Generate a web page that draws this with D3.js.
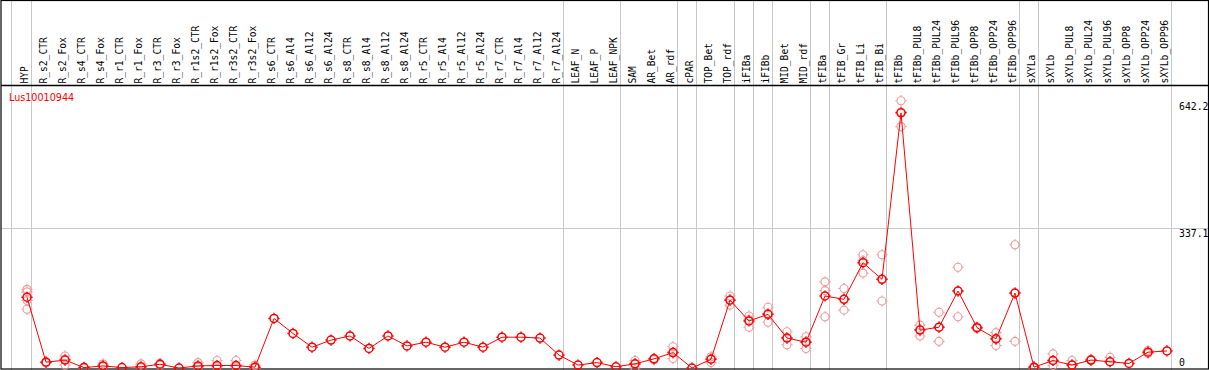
<!DOCTYPE html>
<html>
<head>
<meta charset="utf-8">
<script src="https://cdn.jsdelivr.net/npm/d3@7"></script>
<style>
  body { margin: 0; background: #fff; }
  svg { display: block; }
</style>
</head>
<body>
<div id="chart"></div>
<script>
// 样本名称
const categories = ["HYP", "R_s2_CTR", "R_s2_Fox", "R_s4_CTR", "R_s4_Fox", "R_r1_CTR", "R_r1_Fox", "R_r3_CTR", "R_r3_Fox",
    "R_r1s2_CTR", "R_r1s2_Fox", "R_r3s2_CTR", "R_r3s2_Fox", "R_s6_CTR", "R_s6_Al4", "R_s6_Al12", "R_s6_Al24",
    "R_s8_CTR", "R_s8_Al4", "R_s8_Al12", "R_s8_Al24", "R_r5_CTR", "R_r5_Al4", "R_r5_Al12", "R_r5_Al24",
    "R_r7_CTR", "R_r7_Al4", "R_r7_Al12", "R_r7_Al24", "LEAF_N", "LEAF_P", "LEAF_NPK", "SAM", "AR_Bet", "AR_rdf",
    "cPAR", "TOP_Bet", "TOP_rdf", "iFIBa", "iFIBb", "MID_Bet", "MID_rdf", "tFIBa", "tFIB_Gr", "tFIB_Li", "tFIB_Bi",
    "tFIBb", "tFIBb_PUL8", "tFIBb_PUL24", "tFIBb_PUL96", "tFIBb_OPP8", "tFIBb_OPP24", "tFIBb_OPP96",
    "sXYLa", "sXYLb", "sXYLb_PUL8", "sXYLb_PUL24", "sXYLb_PUL96", "sXYLb_OPP8", "sXYLb_OPP24", "sXYLb_OPP96"];

// 平均表达量
const meanValues = [170, 14, 19, 1, 5, 1, 3, 9, 0, 5, 6, 6, 2, 119, 83, 50, 67, 77, 47, 77, 53, 62, 50, 62, 50,
    74, 74, 72, 31, 7, 13, 3, 10, 22, 37, 0, 21, 163, 113, 129, 72, 62, 173, 165, 253, 213,
    613, 91, 98, 185, 97, 70, 180, 2, 18, 7, 19, 15, 11, 38, 41];

// 重复样本
const replicateValues = [[189, 183, 162, 141], [15, 12], [29, 21, 7], [2, 0], [10, 3], [], [10, 1], [11, 7], [],
    [13, 2], [18, 3], [18, 3], [7, 0], [], [], [], [], [], [], [], [], [], [], [], [], [], [], [], [], [], [], [],
    [18, 10, 0], [23, 20], [51, 37, 23], [], [27, 22, 13], [173, 164, 151], [125, 116, 98], [146, 131, 110],
    [87, 73, 56], [75, 63, 47], [207, 186, 123], [191, 165, 139], [272, 258, 228], [272, 213, 161],
    [642.2, 615, 580], [103, 92, 77], [134, 98, 64], [242, 185, 123], [99, 95], [85, 70, 54], [296, 180, 64],
    [3, 0], [34, 18, 6], [18, 7], [21, 18], [26, 15], [], [42, 35], []];

// 分组线（在这些样本之后）
const separatorsAfter = ["HYP", "R_r7_Al24", "LEAF_NPK", "AR_rdf", "cPAR", "TOP_rdf", "iFIBa", "iFIBb",
    "MID_rdf", "tFIBa", "tFIB_Bi", "tFIBb_OPP96", "sXYLa", "sXYLb_OPP96"];

const tickValues = [642.2, 337.1, 0];
const geneName = "Lus10010944";

const width = 1209, height = 370;
const headerBottom = 85.5;

const svg = d3.select("#chart").append("svg")
    .attr("width", width)
    .attr("height", height);

const x = d3.scaleBand()
    .domain(categories)
    .range([17.5, 17.5 + categories.length * 19]);
const cx = d => x(d) + x.bandwidth() / 2;

const y = d3.scaleLinear()
    .domain([0, 642.2])
    .range([368, 100.7]);

// 竖直分组线
const gridX = [cx(categories[0]) - 16.3].concat(separatorsAfter.map(c => cx(c) + 3.7));
svg.append("g").selectAll("line")
    .data(gridX)
    .join("line")
    .attr("x1", d => Math.round(d) + 0.5).attr("x2", d => Math.round(d) + 0.5)
    .attr("y1", 0).attr("y2", height)
    .attr("stroke", "#c8c8c8").attr("stroke-width", 1);

// 水平网格线
svg.append("g").selectAll("line")
    .data(tickValues.filter(v => v > 0 && v < 642.2))
    .join("line")
    .attr("x1", 1).attr("x2", width - 1)
    .attr("y1", d => Math.round(y(d)) + 0.5).attr("y2", d => Math.round(y(d)) + 0.5)
    .attr("stroke", "#c8c8c8");

// 边框
svg.append("rect")
    .attr("x", 1).attr("y", 0.5)
    .attr("width", width - 1.5).attr("height", height - 1.5)
    .attr("fill", "none").attr("stroke", "#000").attr("stroke-width", 1.2);
svg.append("line")
    .attr("x1", 1).attr("x2", width)
    .attr("y1", headerBottom).attr("y2", headerBottom)
    .attr("stroke", "#000").attr("stroke-width", 1.5);

// 表头标签
svg.append("g").selectAll("text")
    .data(categories)
    .join("text")
    .attr("transform", d => "translate(" + (cx(d) + 1) + ",83.5) rotate(-90)")
    .attr("font-family", "DejaVu Sans Mono")
    .attr("font-size", "9.6px")
    .attr("fill", "#000")
    .text(d => d);

// 基因名称
svg.append("text")
    .attr("x", 9).attr("y", 100.7)
    .attr("font-family", "DejaVu Sans")
    .attr("font-size", "9.6px")
    .attr("fill", "#ff0000")
    .text(geneName);

// 右侧刻度
svg.append("g").selectAll("text")
    .data(tickValues)
    .join("text")
    .attr("x", 1179)
    .attr("y", d => Math.min(y(d) + 9.5, 365.5))
    .attr("font-family", "DejaVu Sans Mono")
    .attr("font-size", "9.8px")
    .attr("fill", "#000")
    .text(d => d);

// 带刻度的圆形标记
const gearCircle = {
    draw(context, size) {
        const r = Math.sqrt(size / Math.PI);
        context.moveTo(r, 0);
        context.arc(0, 0, r, 0, 2 * Math.PI);
        [[1, 0], [-1, 0], [0, 1], [0, -1]].forEach(([dx, dy]) => {
            context.moveTo(dx * r, dy * r);
            context.lineTo(dx * (r + 1.6), dy * (r + 1.6));
        });
    }
};
const marker = d3.symbol().type(gearCircle).size(Math.PI * 16);

const repPoints = [];
categories.forEach((c, i) => replicateValues[i].forEach(v => repPoints.push({ c: c, v: v })));

svg.append("g").selectAll("path")
    .data(repPoints)
    .join("path")
    .attr("transform", d => "translate(" + cx(d.c) + "," + y(d.v) + ")")
    .attr("d", marker)
    .attr("fill", "none")
    .attr("stroke", "#f09a9a")
    .attr("stroke-width", 1.1);

const line = d3.line()
    .x((d, i) => cx(categories[i]))
    .y(d => y(d));

svg.append("path")
    .datum(meanValues)
    .attr("d", line)
    .attr("fill", "none")
    .attr("stroke", "#ff0000")
    .attr("stroke-width", 1);

svg.append("g").selectAll("path")
    .data(meanValues)
    .join("path")
    .attr("transform", (d, i) => "translate(" + cx(categories[i]) + "," + y(d) + ")")
    .attr("d", marker)
    .attr("fill", "none")
    .attr("stroke", "#ff0000")
    .attr("stroke-width", 1.5);
</script>
</body>
</html>
